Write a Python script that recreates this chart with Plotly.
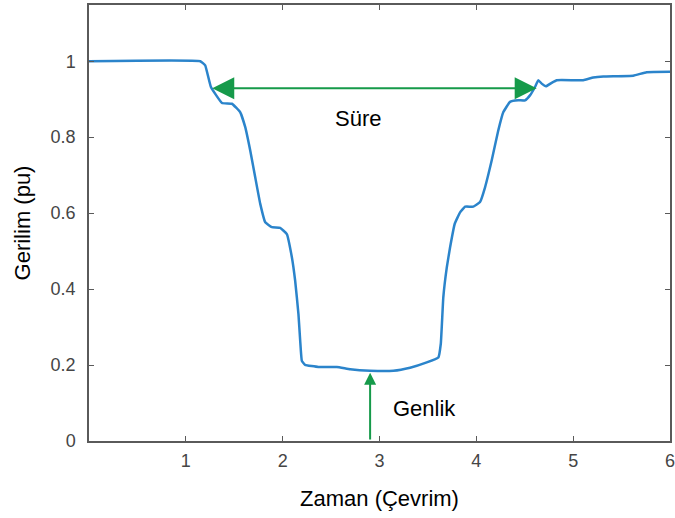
import plotly.graph_objects as go

# Voltage sag curve
time_cycles = [0.0, 1.149, 1.200, 1.259, 1.373, 1.476, 1.561, 1.613, 1.665, 1.716, 1.768,
               1.820, 1.889, 1.974, 2.043, 2.095, 2.129, 2.163, 2.181, 2.198, 2.232,
               2.369, 2.559, 2.697, 2.903, 3.143, 3.316, 3.488, 3.608, 3.633, 3.659,
               3.695, 3.729, 3.777, 3.832, 3.884, 3.969, 4.038, 4.090, 4.159, 4.227,
               4.279, 4.348, 4.433, 4.503, 4.554, 4.606, 4.640, 4.675, 4.719, 4.778,
               4.830, 5.104, 5.207, 5.311, 5.620, 5.759, 6.0]
voltage_pu = [1.0, 1.0, 0.989, 0.932, 0.890, 0.888, 0.866, 0.827, 0.765, 0.695, 0.625,
              0.576, 0.563, 0.561, 0.545, 0.484, 0.422, 0.334, 0.264, 0.211, 0.2005,
              0.195, 0.195, 0.189, 0.185, 0.185, 0.193, 0.207, 0.220, 0.256, 0.378,
              0.457, 0.510, 0.572, 0.602, 0.617, 0.617, 0.629, 0.668, 0.739, 0.818,
              0.866, 0.893, 0.897, 0.897, 0.910, 0.932, 0.950, 0.941, 0.934, 0.943,
              0.950, 0.950, 0.957, 0.960, 0.962, 0.971, 0.972]

# Annotation values
duration_start = 1.257
duration_end = 4.623
duration_level = 0.929
duration_label = "Süre"
duration_label_pos = (2.78, 0.85)
magnitude_time = 2.903
magnitude_value = 0.18
magnitude_label = "Genlik"
magnitude_label_pos = (3.46, 0.085)

x_ticks = [1, 2, 3, 4, 5, 6]
y_ticks = [0, 0.2, 0.4, 0.6, 0.8, 1]
y_tick_text = ["0", "0.2", "0.4", "0.6", "0.8", "1"]

GREEN = "#169a4a"
BLUE = "#2b84cb"
AXIS = "#5a5a5a"
TICKFONT = "#454545"

fig = go.Figure()
fig.add_trace(go.Scatter(x=time_cycles, y=voltage_pu, mode="lines",
                         line=dict(color=BLUE, width=2.5, shape="spline", smoothing=0.3),
                         showlegend=False, hoverinfo="skip"))

annotations = [
    # duration double arrow
    dict(x=duration_end, y=duration_level, ax=duration_start, ay=duration_level,
         xref="x", yref="y", axref="x", ayref="y", text="", showarrow=True,
         arrowhead=2, arrowsize=2.2, arrowwidth=2, arrowcolor=GREEN,
         arrowside="end+start", startarrowhead=2, startarrowsize=2.2),
    # magnitude arrow
    dict(x=magnitude_time, y=magnitude_value, ax=magnitude_time, ay=0,
         xref="x", yref="y", axref="x", ayref="y", text="", showarrow=True,
         arrowhead=2, arrowsize=1.2, arrowwidth=2, arrowcolor=GREEN),
    dict(x=duration_label_pos[0], y=duration_label_pos[1], xref="x", yref="y",
         text=duration_label, showarrow=False,
         font=dict(family="Liberation Sans, Arial", size=22, color="#000")),
    dict(x=magnitude_label_pos[0], y=magnitude_label_pos[1], xref="x", yref="y",
         text=magnitude_label, showarrow=False,
         font=dict(family="Liberation Sans, Arial", size=22, color="#000")),
]

fig.update_layout(
    width=675, height=518,
    margin=dict(l=89, r=5, t=5, b=77),
    paper_bgcolor="white", plot_bgcolor="white",
    font=dict(family="Liberation Sans, Arial", color="#000"),
    annotations=annotations,
    xaxis=dict(range=[0, 6], tickvals=x_ticks, ticktext=[str(v) for v in x_ticks],
               automargin=False, ticklabeloverflow="allow",
               showgrid=False, zeroline=False, showline=True, linecolor=AXIS,
               linewidth=1.5, mirror="allticks", ticks="inside", ticklen=5,
               tickcolor=AXIS, tickwidth=1,
               tickfont=dict(size=18, color=TICKFONT), ticklabelstandoff=3,
               title=dict(text="Zaman (Çevrim)", font=dict(size=22, color="#000"),
                          standoff=20)),
    yaxis=dict(range=[0, 1.148], tickvals=y_ticks, ticktext=y_tick_text,
               automargin=False, ticklabeloverflow="allow",
               showgrid=False, zeroline=False, showline=True, linecolor=AXIS,
               linewidth=1.5, mirror="allticks", ticks="inside", ticklen=5,
               tickcolor=AXIS, tickwidth=1,
               tickfont=dict(size=18, color=TICKFONT), ticklabelstandoff=8,
               title=dict(text="Gerilim (pu)", font=dict(size=22, color="#000"),
                          standoff=14)),
)

fig.write_html("out.html")
